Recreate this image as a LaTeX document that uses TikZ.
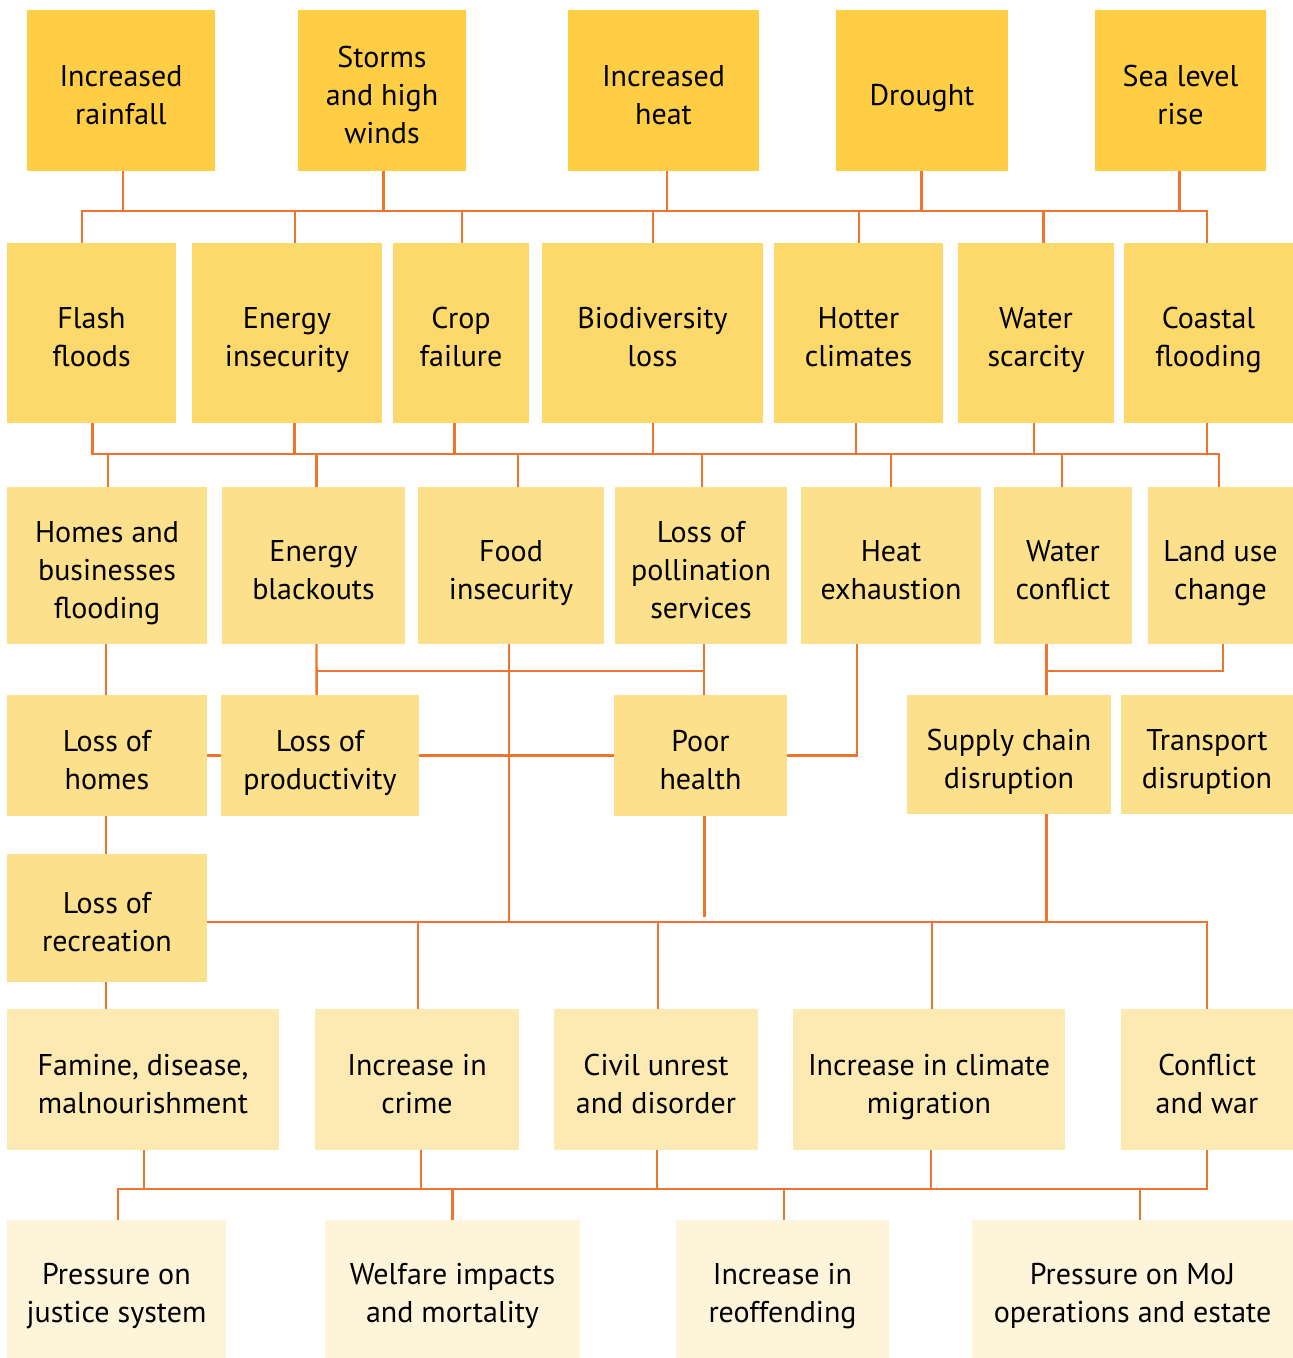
\documentclass[tikz,border=0pt]{standalone}
\usepackage{fontspec}
\setmainfont{PT Sans}
\definecolor{cA}{HTML}{FFCE44}
\definecolor{cB}{HTML}{FDD96B}
\definecolor{cC}{HTML}{FDE08B}
\definecolor{cD}{HTML}{FDEAB2}
\definecolor{cE}{HTML}{FEF4DA}
\definecolor{ln}{HTML}{EE7430}
\newcommand\bx[7]{%
  \pgfmathsetmacro\bxW{#4-#2}\pgfmathsetmacro\bxH{#5-#3}%
  \pgfmathsetmacro\bxX{(#2+#4)/2}\pgfmathsetmacro\bxY{(#3+#5)/2}%
  \node[boxst,fill=#6,minimum width=\bxW pt,minimum height=\bxH pt] (#1) at (\bxX,\bxY) {};
  \node[txtst] at ([yshift=-7pt]#1.center) {\begin{tabular}{@{}c@{}}#7\end{tabular}};}
\newcommand\vd[3]{\draw[conn] ([xshift=#2pt]#1) -- ([xshift=#2pt]#1 |- #3);}
\begin{document}
\begin{tikzpicture}[x=1pt,y=-1pt,
  boxst/.style={draw=none,inner sep=0pt},
  txtst/.style={inner sep=0pt,font=\fontsize{30}{38}\selectfont,text=black},
  conn/.style={draw=ln,line width=2.4pt}]
\useasboundingbox (0,0) rectangle (1293,1358);
% row 1
\bx{rain}{27}{10}{215}{171}{cA}{Increased\\rainfall}
\bx{storms}{298}{10}{466}{171}{cA}{Storms\\and high\\winds}
\bx{heat}{568}{10}{759}{171}{cA}{Increased\\heat}
\bx{drought}{836}{10}{1008}{171}{cA}{Drought}
\bx{sea}{1095}{10}{1266}{171}{cA}{Sea level\\rise}
% row 2
\bx{flash}{7}{243}{176}{423}{cB}{Flash\\floods}
\bx{energy}{192}{243}{382}{423}{cB}{Energy\\insecurity}
\bx{crop}{393}{243}{529}{423}{cB}{Crop\\failure}
\bx{bio}{542}{243}{763}{423}{cB}{Biodiversity\\loss}
\bx{hotter}{774}{243}{943}{423}{cB}{Hotter\\climates}
\bx{water}{958}{243}{1114}{423}{cB}{Water\\scarcity}
\bx{coastal}{1124}{243}{1293}{423}{cB}{Coastal\\flooding}
% row 3
\bx{homes}{7}{487}{207}{644}{cC}{Homes and\\businesses\\flooding}
\bx{blackouts}{222}{487}{405}{644}{cC}{Energy\\blackouts}
\bx{food}{418}{487}{604}{644}{cC}{Food\\insecurity}
\bx{pollin}{615}{487}{787}{644}{cC}{Loss of\\pollination\\services}
\bx{heatexh}{801}{487}{981}{644}{cC}{Heat\\exhaustion}
\bx{wconf}{994}{487}{1132}{644}{cC}{Water\\conflict}
\bx{landuse}{1148}{487}{1293}{644}{cC}{Land use\\change}
% row 4
\bx{losshomes}{7}{695}{207}{816}{cC}{Loss of\\homes}
\bx{product}{221}{695}{419}{816}{cC}{Loss of\\productivity}
\bx{poor}{614}{695}{787}{816}{cC}{Poor\\health}
\bx{supply}{907}{695}{1111}{814}{cC}{Supply chain\\disruption}
\bx{transport}{1121}{695}{1293}{814}{cC}{Transport\\disruption}
\bx{recre}{7}{854}{207}{982}{cC}{Loss of\\recreation}
% row 5
\bx{famine}{7}{1009}{279}{1150}{cD}{Famine, disease,\\malnourishment}
\bx{crime}{315}{1009}{519}{1150}{cD}{Increase in\\crime}
\bx{civil}{554}{1009}{758}{1150}{cD}{Civil unrest\\and disorder}
\bx{migr}{793}{1009}{1065}{1150}{cD}{Increase in climate\\migration}
\bx{war}{1121}{1009}{1293}{1150}{cD}{Conflict\\and war}
% row 6
\bx{justice}{7}{1220}{226}{1358}{cE}{Pressure on\\justice system}
\bx{welfare}{325}{1220}{580}{1358}{cE}{Welfare impacts\\and mortality}
\bx{reoff}{676}{1220}{889}{1358}{cE}{Increase in\\reoffending}
\bx{moj}{972}{1220}{1293}{1358}{cE}{Pressure on MoJ\\operations and estate}
% bus levels
\coordinate (b1) at (0,211);
\coordinate (b2) at (0,454);
\coordinate (h671) at (0,671);
\coordinate (phend) at (0,917);
\coordinate (b3) at (0,922);
\coordinate (b4) at (0,1189);
% bus 1
\draw[conn] ([xshift=-9.5pt]flash.north) -- ([xshift=-9.5pt]flash.north |- b1) -- ([xshift=-1.5pt]coastal.north |- b1) -- ([xshift=-1.5pt]coastal.north);
\vd{rain.south}{1.7}{b1}
\vd{storms.south}{1.5}{b1}
\vd{heat.south}{3.5}{b1}
\vd{drought.south}{-0.5}{b1}
\vd{sea.south}{-1}{b1}
\vd{energy.north}{8}{b1}
\vd{crop.north}{1}{b1}
\vd{bio.north}{0.5}{b1}
\vd{hotter.north}{0.5}{b1}
\vd{water.north}{7.6}{b1}
% bus 2
\draw[conn] ([xshift=1pt]flash.south) -- ([xshift=1pt]flash.south |- b2) -- ([xshift=-1.5pt]landuse.north |- b2) -- ([xshift=-1.5pt]landuse.north);
\vd{energy.south}{7.5}{b2}
\vd{crop.south}{-6.4}{b2}
\vd{bio.south}{0.5}{b2}
\vd{hotter.south}{-2.5}{b2}
\vd{water.south}{-2}{b2}
\vd{coastal.south}{-1.5}{b2}
\vd{homes.north}{1}{b2}
\vd{blackouts.north}{3}{b2}
\vd{food.north}{7}{b2}
\vd{pollin.north}{1}{b2}
\vd{heatexh.north}{0}{b2}
\vd{wconf.north}{-1}{b2}
% level 3 to 4
\draw[conn] ([xshift=-1pt]homes.south) -- ([xshift=-1pt]losshomes.north);
\draw[conn] ([xshift=3pt]blackouts.south) -- ([xshift=-3.4pt]product.north);
\draw[conn] ([xshift=3pt]blackouts.south |- h671) -- ([xshift=3pt]pollin.south |- h671);
\draw[conn] ([xshift=3pt]pollin.south) -- ([xshift=3.5pt]poor.north);
\vd{food.south}{-2}{b3}
\draw[conn] (losshomes.east) -- (product.west);
\draw[conn] (product.east) -- (poor.west);
\draw[conn] ([xshift=-34pt]heatexh.south) |- (poor.east);
\draw[conn] ([xshift=-16.5pt]wconf.south) -- ([xshift=37.5pt]supply.north);
\draw[conn] ([xshift=-16.5pt]wconf.south |- h671) -| ([xshift=2.5pt]landuse.south);
\draw[conn] ([xshift=-1pt]losshomes.south) -- ([xshift=-1pt]recre.north);
\vd{poor.south}{4}{phend}
\vd{supply.south}{37.5}{b3}
% bus 3
\draw[conn] (recre.east |- b3) -- (war.north |- b3) -- (war.north);
\vd{crime.north}{1}{b3}
\vd{civil.north}{2}{b3}
\vd{migr.north}{3}{b3}
\draw[conn] ([xshift=-1pt]recre.south) -- ([xshift=-1pt]recre.south |- famine.north);
% bus 4
\draw[conn] ([xshift=1.5pt]justice.north) -- ([xshift=1.5pt]justice.north |- b4) -- (war.south |- b4) -- (war.south);
\vd{famine.south}{1}{b4}
\vd{crime.south}{4}{b4}
\vd{civil.south}{1}{b4}
\vd{migr.south}{2}{b4}
\vd{welfare.north}{0}{b4}
\vd{reoff.north}{1.5}{b4}
\vd{moj.north}{7.5}{b4}
\end{tikzpicture}
\end{document}
